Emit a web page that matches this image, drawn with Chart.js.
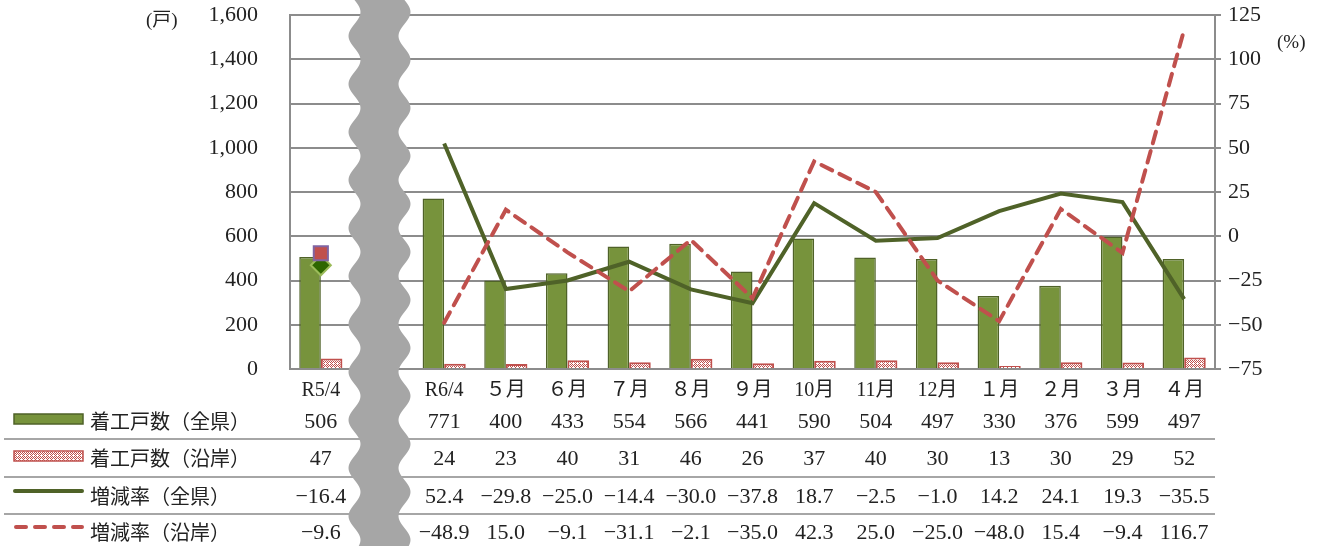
<!DOCTYPE html>
<html>
<head>
<meta charset="utf-8">
<script src="https://cdn.jsdelivr.net/npm/chart.js@4.4.1/dist/chart.umd.min.js"></script>
<style>
  html, body { margin: 0; padding: 0; background: #fff; }
  #wrap { position: relative; width: 1328px; height: 546px; }
</style>
</head>
<body>
<div id="wrap"><canvas id="chart"></canvas></div>
<script>
  // categories (index 1 is the empty slot behind the wavy break)
  const categories = ["R5/4", "", "R6/4", "５月", "６月", "７月", "８月", "９月", "10月", "11月", "12月", "１月", "２月", "３月", "４月"];
  const seriesNames = ["着工戸数（全県）", "着工戸数（沿岸）", "増減率（全県）", "増減率（沿岸）"];

  const startsAll = [506, null, 771, 400, 433, 554, 566, 441, 590, 504, 497, 330, 376, 599, 497];
  const startsCoast = [47, null, 24, 23, 40, 31, 46, 26, 37, 40, 30, 13, 30, 29, 52];
  const rateAll = [-16.4, null, 52.4, -29.8, -25.0, -14.4, -30.0, -37.8, 18.7, -2.5, -1.0, 14.2, 24.1, 19.3, -35.5];
  const rateCoast = [-9.6, null, -48.9, 15.0, -9.1, -31.1, -2.1, -35.0, 42.3, 25.0, -25.0, -48.0, 15.4, -9.4, 116.7];

  const leftAxis = { min: 0, max: 1600, step: 200 };
  const rightAxis = { min: -75, max: 125, step: 25 };

  const GREEN = "#77933C";
  const GREEN_DARK = "#4F6228";
  const RED = "#C0504D";
  const GRID = "#8C8C8C";
  const FONT = '"Liberation Serif", "Noto Sans CJK JP", serif';
  const JP_FONT = '"Noto Sans CJK JP", sans-serif';

  function makeHatch() {
    const c = document.createElement("canvas");
    c.width = 4;
    c.height = 4;
    const g = c.getContext("2d");
    g.fillStyle = "#fff";
    g.fillRect(0, 0, 4, 4);
    g.fillStyle = RED;
    [[0, 0], [1, 1], [2, 2], [3, 3], [2, 0], [3, 1], [0, 2]].forEach(([x, y]) => g.fillRect(x, y, 1, 1));
    return g.createPattern(c, "repeat");
  }
  const hatch = makeHatch();

  function fmtInt(v) {
    return v.toLocaleString("en-US");
  }
  function fmtRate(v) {
    const s = Math.abs(v).toFixed(1);
    return v < 0 ? "−" + s : s;
  }

  function dropPad(scale) {
    scale.paddingTop = 0;
    scale.paddingBottom = 0;
  }

  const tablePlugin = {
    id: "dataTable",
    afterDraw(chart) {
      const { ctx, scales } = chart;
      const x = scales.x;
      const right = chart.chartArea.right;
      const rowY = [422, 459, 497, 533];
      const sepY = [439, 477, 514];

      ctx.save();
      // separators
      ctx.strokeStyle = "#A6A6A6";
      ctx.lineWidth = 2;
      sepY.forEach((y) => {
        ctx.beginPath();
        ctx.moveTo(4, y);
        ctx.lineTo(right, y);
        ctx.stroke();
      });

      // legend keys
      ctx.fillStyle = GREEN;
      ctx.fillRect(14, rowY[0] - 8, 69, 10);
      ctx.strokeStyle = GREEN_DARK;
      ctx.lineWidth = 1.5;
      ctx.strokeRect(14, rowY[0] - 8, 69, 10);

      ctx.fillStyle = hatch;
      ctx.fillRect(14, rowY[1] - 8, 69, 10);
      ctx.strokeStyle = RED;
      ctx.strokeRect(14, rowY[1] - 8, 69, 10);

      ctx.lineCap = "round";
      ctx.lineWidth = 4;
      ctx.strokeStyle = GREEN_DARK;
      ctx.beginPath();
      ctx.moveTo(15, rowY[2] - 6);
      ctx.lineTo(82, rowY[2] - 6);
      ctx.stroke();

      ctx.strokeStyle = RED;
      ctx.setLineDash([10, 9]);
      ctx.beginPath();
      ctx.moveTo(16, rowY[3] - 6);
      ctx.lineTo(82, rowY[3] - 6);
      ctx.stroke();
      ctx.setLineDash([]);

      // row names
      ctx.fillStyle = "#222";
      ctx.textBaseline = "middle";
      ctx.textAlign = "left";
      ctx.font = "20px " + JP_FONT;
      seriesNames.forEach((name, r) => ctx.fillText(name, 90, rowY[r] - 1));

      // values
      const rows = [
        startsAll.map((v) => (v == null ? "" : fmtInt(v))),
        startsCoast.map((v) => (v == null ? "" : fmtInt(v))),
        rateAll.map((v) => (v == null ? "" : fmtRate(v))),
        rateCoast.map((v) => (v == null ? "" : fmtRate(v))),
      ];
      ctx.textAlign = "center";
      ctx.font = "22px " + FONT;
      rows.forEach((vals, r) => {
        vals.forEach((t, i) => {
          if (t) ctx.fillText(t, x.getPixelForValue(i), rowY[r]);
        });
      });

      // axis unit labels
      ctx.font = "19px " + FONT;
      ctx.textAlign = "left";
      ctx.fillText("(戸)", 146, 21);
      ctx.fillText("(%)", 1277, 43);

      // wavy break band over the empty slot
      const cx = x.getPixelForValue(1) - 3;
      const half = 25;
      const amp = 6;
      const period = 48;
      const h = chart.height;
      ctx.fillStyle = "#A6A6A6";
      ctx.beginPath();
      for (let y = 0; y <= h; y += 2) {
        const px = cx - half + amp * Math.sin((2 * Math.PI * y) / period);
        if (y === 0) ctx.moveTo(px, y);
        else ctx.lineTo(px, y);
      }
      for (let y = h; y >= 0; y -= 2) {
        ctx.lineTo(cx + half + amp * Math.sin((2 * Math.PI * y) / period), y);
      }
      ctx.closePath();
      ctx.fill();
      ctx.restore();
    },
  };

  const pointRadii = categories.map((c, i) => (i === 0 ? 10 : 0));

  new Chart(document.getElementById("chart"), {
    type: "bar",
    data: {
      labels: categories,
      datasets: [
        {
          type: "line",
          label: seriesNames[3],
          data: rateCoast,
          yAxisID: "y1",
          borderColor: RED,
          borderWidth: 4,
          borderDash: [12, 8],
          borderCapStyle: "round",
          tension: 0,
          spanGaps: false,
          pointStyle: "rect",
          pointRadius: pointRadii,
          pointBackgroundColor: RED,
          pointBorderColor: "#8064A2",
          pointBorderWidth: 2,
          order: 0,
        },
        {
          type: "line",
          label: seriesNames[2],
          data: rateAll,
          yAxisID: "y1",
          borderColor: GREEN_DARK,
          borderWidth: 4,
          tension: 0,
          spanGaps: false,
          pointStyle: "rectRot",
          pointRadius: pointRadii,
          pointBackgroundColor: "#2E6600",
          pointBorderColor: "#9BBB59",
          pointBorderWidth: 2,
          order: 1,
        },
        {
          label: seriesNames[0],
          data: startsAll,
          yAxisID: "y",
          backgroundColor: GREEN,
          borderColor: GREEN_DARK,
          borderWidth: 1.5,
          categoryPercentage: 0.7,
          barPercentage: 1,
          order: 2,
        },
        {
          label: seriesNames[1],
          data: startsCoast,
          yAxisID: "y",
          backgroundColor: hatch,
          borderColor: RED,
          borderWidth: 2,
          categoryPercentage: 0.7,
          barPercentage: 1,
          order: 2,
        },
      ],
    },
    options: {
      responsive: true,
      maintainAspectRatio: false,
      animation: false,
      devicePixelRatio: 1,
      layout: { padding: { top: 15, left: 0, right: 0, bottom: 0 } },
      plugins: {
        legend: { display: false },
        tooltip: { enabled: false },
      },
      scales: {
        x: {
          grid: { display: false },
          border: { display: false },
          ticks: {
            color: "#222",
            font: { family: FONT, size: 20 },
            padding: 2,
            maxRotation: 0,
            autoSkip: false,
          },
          afterFit(scale) {
            scale.height = 177;
            scale.paddingLeft = 0;
            scale.paddingRight = 0;
          },
        },
        y: {
          position: "left",
          min: leftAxis.min,
          max: leftAxis.max,
          grid: { color: GRID, lineWidth: 2, drawTicks: false },
          border: { display: true, color: GRID, width: 2 },
          ticks: {
            stepSize: leftAxis.step,
            color: "#222",
            font: { family: FONT, size: 22 },
            padding: 32,
            callback: (v) => fmtInt(v),
          },
          afterFit(scale) {
            scale.width = 290;
            dropPad(scale);
          },
        },
        y1: {
          position: "right",
          min: rightAxis.min,
          max: rightAxis.max,
          grid: { drawOnChartArea: false, color: GRID, lineWidth: 2, tickLength: 6 },
          border: { display: true, color: GRID, width: 2 },
          ticks: {
            stepSize: rightAxis.step,
            color: "#222",
            font: { family: FONT, size: 22 },
            padding: 7,
            callback: (v) => (v < 0 ? "−" + Math.abs(v) : String(v)),
          },
          afterFit(scale) {
            scale.width = 113;
            dropPad(scale);
          },
        },
      },
    },
    plugins: [tablePlugin],
  });
</script>
</body>
</html>
